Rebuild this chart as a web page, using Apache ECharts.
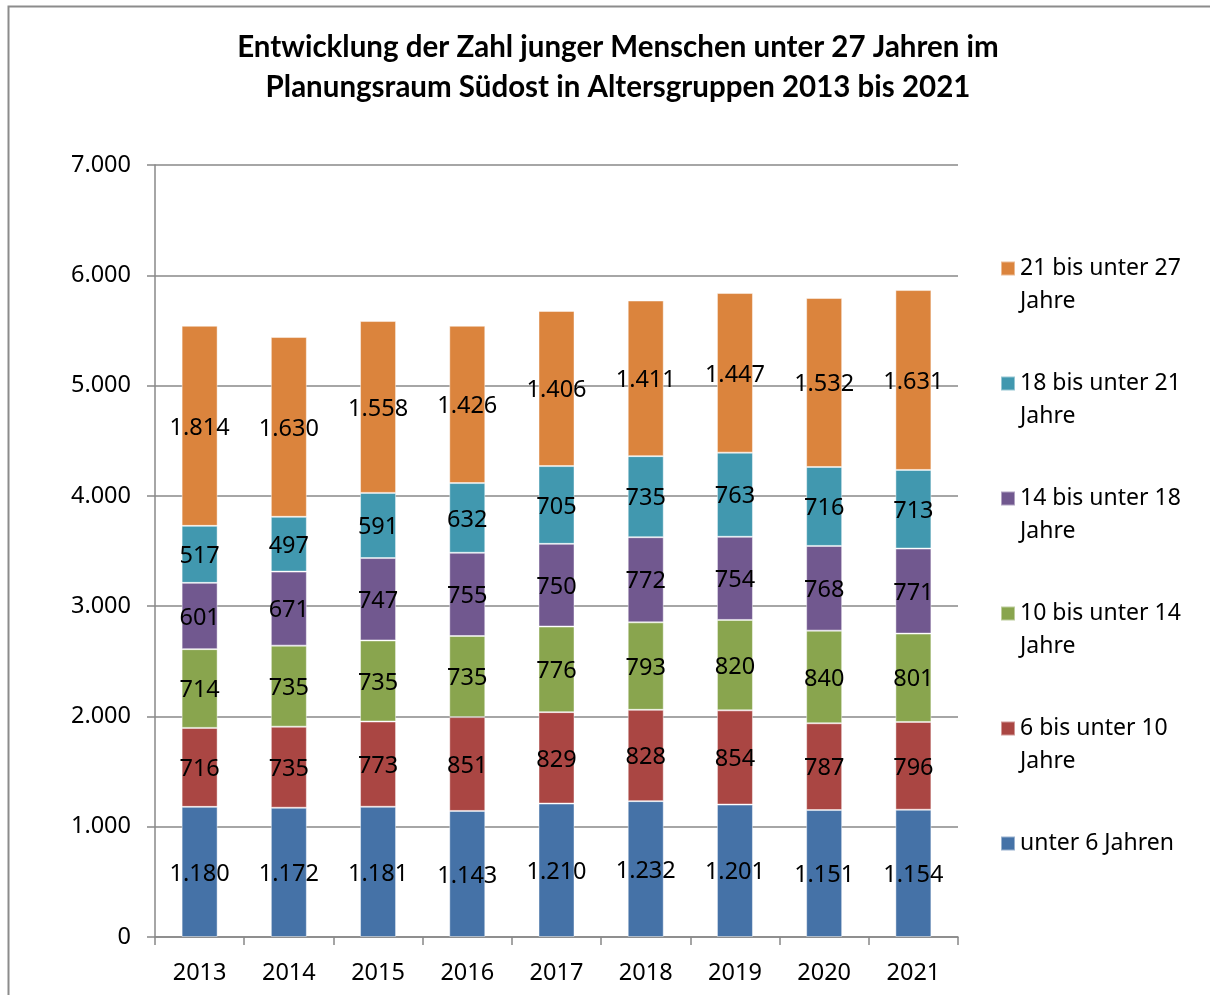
<!DOCTYPE html>
<html>
<head>
<meta charset="utf-8">
<script src="https://cdn.jsdelivr.net/npm/echarts@6/dist/echarts.min.js"></script>
<style>
  html, body { margin: 0; padding: 0; background: #fff; }
  #chart { width: 1210px; height: 995px; }
</style>
</head>
<body>
<div id="chart"></div>
<script>
// Jahre (Kategorien der x-Achse)
const years = ['2013', '2014', '2015', '2016', '2017', '2018', '2019', '2020', '2021'];

// Altersgruppen, von unten nach oben gestapelt
const unter6 = [1180, 1172, 1181, 1143, 1210, 1232, 1201, 1151, 1154];
const von6bis10 = [716, 735, 773, 851, 829, 828, 854, 787, 796];
const von10bis14 = [714, 735, 735, 735, 776, 793, 820, 840, 801];
const von14bis18 = [601, 671, 747, 755, 750, 772, 754, 768, 771];
const von18bis21 = [517, 497, 591, 632, 705, 735, 763, 716, 713];
const von21bis27 = [1814, 1630, 1558, 1426, 1406, 1411, 1447, 1532, 1631];

const seriesNames = ['unter 6 Jahren', '6 bis unter 10 Jahre', '10 bis unter 14 Jahre',
  '14 bis unter 18 Jahre', '18 bis unter 21 Jahre', '21 bis unter 27 Jahre'];
const seriesData = [unter6, von6bis10, von10bis14, von14bis18, von18bis21, von21bis27];
const colors = ['#4572A7', '#AA4643', '#89A54E', '#71588F', '#4198AF', '#DB843D'];

// Tausenderpunkt nach deutscher Schreibweise
function fmt(v) {
  return String(v).replace(/\B(?=(\d{3})+(?!\d))/g, '.');
}

const FONT = '"Noto Sans", "Open Sans", sans-serif';
const LINE = 33;

const series = seriesData.map((data, i) => ({
  name: seriesNames[i],
  type: 'bar',
  stack: 'gesamt',
  data: data,
  barWidth: 36,
  itemStyle: { color: colors[i], borderColor: 'rgba(255,255,255,0.45)', borderWidth: 1 },
  label: {
    show: true,
    position: 'inside',
    offset: [0, 2],
    color: '#000',
    fontFamily: FONT,
    fontSize: 23.5,
    formatter: p => fmt(p.value)
  },
  emphasis: { disabled: true }
}));

// Legende in umgekehrter Reihenfolge; jeder Eintrag ist dreizeilig aufgebaut
// (führende Leerzeile), damit das Symbol auf Höhe der ersten Textzeile sitzt
// und alle Einträge gleich hoch sind.
const legendNames = seriesNames.slice().reverse();
function legendText(name) {
  return / Jahre$/.test(name)
    ? ' \n' + name.replace(/ Jahre$/, '\nJahre')
    : ' \n' + name + '\n ';
}

const chart = echarts.init(document.getElementById('chart'), null, { renderer: 'canvas' });
chart.setOption({
  animation: false,
  backgroundColor: '#fff',
  color: colors,
  title: {
    text: 'Entwicklung der Zahl junger Menschen unter 27 Jahren im\nPlanungsraum Südost in Altersgruppen 2013 bis 2021',
    left: 613,
    textAlign: 'center',
    top: 22,
    textStyle: {
      fontFamily: 'Lato, "Open Sans", sans-serif',
      fontWeight: 'bold',
      fontSize: 29.5,
      lineHeight: 40,
      color: '#000'
    }
  },
  legend: {
    orient: 'vertical',
    left: 1000,
    top: 219,
    padding: 0,
    itemWidth: 14,
    itemHeight: 14,
    itemGap: 16,
    icon: 'rect',
    data: legendNames,
    formatter: legendText,
    textStyle: {
      fontFamily: FONT,
      fontSize: 23,
      lineHeight: LINE,
      color: '#000'
    },
    selectedMode: false
  },
  grid: { left: 155, right: 252, top: 165, bottom: 58, containLabel: false },
  xAxis: {
    type: 'category',
    data: years,
    axisLine: { lineStyle: { color: '#888', width: 1.5 } },
    axisTick: { show: true, length: 8, lineStyle: { color: '#888', width: 1.5 } },
    axisLabel: { color: '#000', fontFamily: FONT, fontSize: 23.5, margin: 24 }
  },
  yAxis: {
    type: 'value',
    min: 0,
    max: 7000,
    interval: 1000,
    axisLine: { show: true, lineStyle: { color: '#888', width: 1.5 } },
    axisTick: { show: true, length: 8, lineStyle: { color: '#888', width: 1.5 } },
    splitLine: { show: true, lineStyle: { color: '#888', width: 1.5 } },
    axisLabel: { color: '#000', fontFamily: FONT, fontSize: 23.5, margin: 24, formatter: v => fmt(v) }
  },
  graphic: [{
    type: 'rect',
    shape: { x: 8.5, y: 6.5, width: 1300, height: 1100 },
    style: { fill: 'none', stroke: '#8c8c8c', lineWidth: 2 },
    silent: true,
    z: -1
  }],
  series: series
});
</script>
</body>
</html>
